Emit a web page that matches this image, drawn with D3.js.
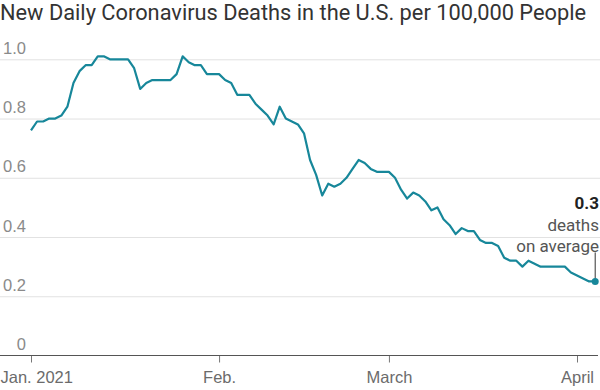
<!DOCTYPE html>
<html>
<head>
<meta charset="utf-8">
<script src="https://cdn.jsdelivr.net/npm/d3@7"></script>
<style>
  body { margin: 0; background: #fff; }
  svg { display: block; font-family: Roboto, "Liberation Sans", sans-serif; }
</style>
</head>
<body>
<div id="chart"></div>
<script>
// New daily deaths per 100,000 people, 7-day average, one value per day from Jan. 1, 2021
const startDate = "2021-01-01";
const deathsPer100k = [
  0.76, 0.79, 0.79, 0.80, 0.80, 0.81, 0.84, 0.92, 0.96, 0.98,
  0.98, 1.01, 1.01, 1.00, 1.00, 1.00, 1.00, 0.97, 0.90, 0.92,
  0.93, 0.93, 0.93, 0.93, 0.95, 1.01, 0.99, 0.98, 0.98, 0.95,
  0.95, 0.95, 0.93, 0.92, 0.88, 0.88, 0.88, 0.85, 0.83, 0.81,
  0.78, 0.84, 0.80, 0.79, 0.78, 0.75, 0.66, 0.61, 0.54, 0.58,
  0.57, 0.58, 0.60, 0.63, 0.66, 0.65, 0.63, 0.62, 0.62, 0.62,
  0.60, 0.56, 0.53, 0.55, 0.54, 0.52, 0.49, 0.50, 0.46, 0.44,
  0.41, 0.43, 0.42, 0.42, 0.39, 0.38, 0.38, 0.37, 0.33, 0.32,
  0.32, 0.30, 0.32, 0.31, 0.30, 0.30, 0.30, 0.30, 0.30, 0.28,
  0.27, 0.26, 0.25, 0.25
];
const yTicks = [0, 0.2, 0.4, 0.6, 0.8, 1.0];
const monthTicks = ["2021-01-01", "2021-02-01", "2021-03-01", "2021-04-01"];
const monthLabels = ["Jan. 2021", "Feb.", "March", "April"];
const title = "New Daily Coronavirus Deaths in the U.S. per 100,000 People";
const calloutValue = "0.3";
const calloutLines = ["deaths", "on average"];

const width = 600;
const height = 390;
const lineColor = "#17879a";

const parse = d3.utcParse("%Y-%m-%d");
const day0 = parse(startDate);
const data = deathsPer100k.map((v, i) => ({ date: d3.utcDay.offset(day0, i), value: v }));

const x = d3.scaleUtc()
  .domain([parse(monthTicks[0]), parse(monthTicks[3])])
  .range([31, 577]);

const y = d3.scaleLinear()
  .domain([0, 1])
  .range([355.5, 59.3]);

const svg = d3.select("#chart")
  .append("svg")
  .attr("width", width)
  .attr("height", height);

svg.append("text")
  .attr("x", 0)
  .attr("y", 20)
  .attr("fill", "#333")
  .attr("font-size", 21.8)
  .text(title);

// y gridlines + labels
const yAxis = svg.append("g")
  .call(d3.axisLeft(y).tickValues(yTicks).tickSize(-width).tickFormat((d) => d === 0 ? "0" : d3.format(".1f")(d)));
yAxis.select(".domain").remove();
yAxis.selectAll(".tick line")
  .attr("stroke", "#e2e2e2")
  .attr("stroke-width", 1)
  .filter((d) => d === 0).remove();
yAxis.selectAll(".tick text")
  .attr("x", 26)
  .attr("dy", -6)
  .attr("text-anchor", "end")
  .attr("fill", "#8a8a8a")
  .attr("font-size", 16.5)
  .attr("font-family", null);

// x axis
const xAxis = svg.append("g")
  .attr("transform", `translate(0,${y(0)})`)
  .call(d3.axisBottom(x)
    .tickValues(monthTicks.map(parse))
    .tickSize(7)
    .tickFormat((d, i) => monthLabels[i]));
xAxis.select(".domain").remove();
xAxis.selectAll(".tick line").attr("stroke", "#777");
xAxis.selectAll(".tick text")
  .attr("y", 27)
  .attr("dy", 0)
  .attr("fill", "#6b6b6b")
  .attr("font-size", 16.5)
  .attr("font-family", null);
xAxis.selectAll(".tick text")
  .filter((d, i) => i === 0)
  .attr("text-anchor", "start")
  .attr("x", -x(parse(monthTicks[0])));

svg.append("line")
  .attr("x1", 0)
  .attr("x2", 598)
  .attr("y1", y(0))
  .attr("y2", y(0))
  .attr("stroke", "#555")
  .attr("stroke-width", 1.2);

// line
const line = d3.line()
  .x((d) => x(d.date))
  .y((d) => y(d.value));

svg.append("path")
  .datum(data)
  .attr("fill", "none")
  .attr("stroke", lineColor)
  .attr("stroke-width", 2.2)
  .attr("stroke-linejoin", "round")
  .attr("d", line);

// callout on the last point
const last = data[data.length - 1];
const lx = x(last.date);
const ly = y(last.value);

svg.append("line")
  .attr("x1", lx).attr("x2", lx)
  .attr("y1", ly).attr("y2", ly - 29)
  .attr("stroke", "#333")
  .attr("stroke-width", 1);

svg.append("circle")
  .attr("cx", lx)
  .attr("cy", ly)
  .attr("r", 3.5)
  .attr("fill", lineColor);

const callout = svg.append("text")
  .attr("text-anchor", "end")
  .attr("font-size", 17);
callout.append("tspan")
  .attr("x", 599).attr("y", 209)
  .attr("font-weight", "bold")
  .attr("fill", "#222")
  .text(calloutValue);
calloutLines.forEach((t, i) => {
  callout.append("tspan")
    .attr("x", 599).attr("y", 231 + i * 20.5)
    .attr("fill", "#555")
    .text(t);
});
</script>
</body>
</html>
